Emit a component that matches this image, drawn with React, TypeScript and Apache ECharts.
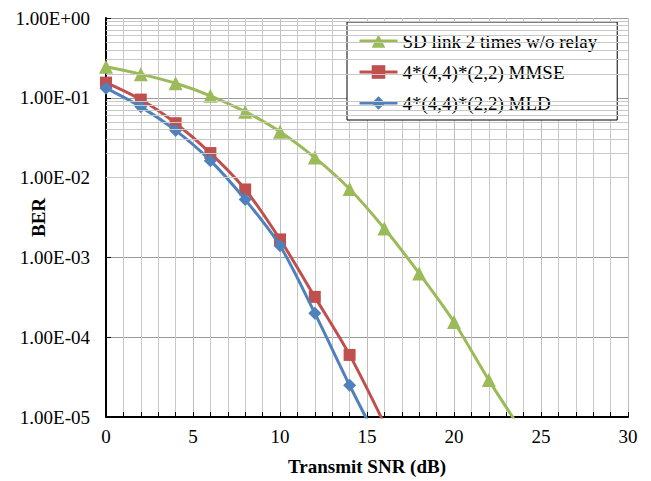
import React, { useEffect, useRef } from "react";
import * as echarts from "echarts";

const snr = [0, 2, 4, 6, 8, 10, 12, 14, 16, 18, 20, 22, 24];
const sdBer = [0.245, 0.198, 0.152, 0.106, 0.067, 0.0376, 0.0178, 0.0072, 0.0023, 0.00063, 0.000155, 0.000029, 0.0000062];
const mmseBer = [0.155, 0.095, 0.048, 0.0203, 0.0071, 0.00168, 0.00032, 0.00006, 0.0000082];
const mldBer = [0.132, 0.077, 0.039, 0.0163, 0.0053, 0.0014, 0.0002, 0.000025, 0.0000035];
const seriesNames = ["SD link 2 times w/o relay", "4*(4,4)*(2,2) MMSE", "4*(4,4)*(2,2) MLD"];
const decades = [-5, -4, -3, -2, -1];
const minorMultipliers = [2, 3, 4, 5, 6, 7, 8, 9];

const FONT = "Liberation Serif";

export default function App() {
  const ref = useRef<HTMLDivElement>(null);
  useEffect(() => {
    if (!ref.current) return;
    const chart = echarts.init(ref.current, undefined, { renderer: "svg" });
    const pairs = (ys: number[]) => ys.map((y, i) => [snr[i], y]);
    const minorVals: number[] = [];
    decades.forEach((d) => minorMultipliers.forEach((m) => minorVals.push(m * Math.pow(10, d))));
    const fmt = (v: number) => {
      const e = Math.round(Math.log10(v));
      return "1.00E" + (e < 0 ? "-" : "+") + String(Math.abs(e)).padStart(2, "0");
    };
    chart.setOption({
      animation: false,
      backgroundColor: "#ffffff",
      grid: { left: 106, right: 23, top: 18, bottom: 64, containLabel: false, outerBoundsMode: "none" },
      legend: {
        left: 347,
        top: 22,
        width: 250,
        orient: "vertical",
        backgroundColor: "#ffffff",
        borderColor: "#000000",
        borderWidth: 1,
        padding: [8, 20, 6, 11],
        itemGap: 9,
        itemWidth: 38,
        itemHeight: 17,
        lineStyle: { width: 3 },
        textStyle: { fontFamily: FONT, fontSize: 19, color: "#000", lineHeight: 22 },
        data: seriesNames,
      },
      xAxis: {
        type: "value",
        min: 0,
        max: 30,
        interval: 5,
        name: "Transmit SNR (dB)",
        nameLocation: "middle",
        nameGap: 40,
        nameMoveOverlap: false,
        nameTextStyle: { fontFamily: FONT, fontSize: 19, fontWeight: "bold", color: "#000" },
        axisLine: { lineStyle: { color: "#000", width: 2 } },
        axisTick: { inside: true, length: 5, lineStyle: { color: "#000" } },
        minorTick: { show: true, splitNumber: 5, length: 5, lineStyle: { color: "#000" } },
        axisLabel: { fontFamily: FONT, fontSize: 19, color: "#000", margin: 10 },
        splitLine: { show: true, lineStyle: { color: "#bdbdbd", width: 1 } },
        minorSplitLine: { show: true, lineStyle: { color: "#c8c8c8", width: 1 } },
      },
      yAxis: {
        type: "log",
        logBase: 10,
        min: 1e-5,
        max: 1,
        name: "BER",
        nameLocation: "middle",
        nameGap: 58,
        nameMoveOverlap: false,
        nameTextStyle: { fontFamily: FONT, fontSize: 19, fontWeight: "bold", color: "#000" },
        axisLine: { show: true, lineStyle: { color: "#000", width: 2 } },
        axisTick: { show: true, inside: true, length: 5, lineStyle: { color: "#000" } },
        axisLabel: { fontFamily: FONT, fontSize: 19, color: "#000", margin: 16, formatter: fmt },
        splitLine: { show: true, lineStyle: { color: "#9a9a9a", width: 1 } },
      },
      series: [
        {
          name: "__minor",
          type: "line",
          data: [],
          z: 1,
          silent: true,
          markLine: {
            silent: true,
            symbol: "none",
            label: { show: false },
            lineStyle: { color: "#c8c8c8", type: "solid", width: 1 },
            data: minorVals.map((v) => ({ yAxis: v })),
          },
        },
        {
          name: seriesNames[0],
          type: "line",
          smooth: 0.3,
          clip: true,
          data: pairs(sdBer),
          symbol: "triangle",
          symbolSize: 14,
          lineStyle: { width: 3, color: "#9bbb59" },
          itemStyle: { color: "#9bbb59" },
          z: 3,
        },
        {
          name: seriesNames[1],
          type: "line",
          smooth: 0.3,
          clip: true,
          data: pairs(mmseBer),
          symbol: "rect",
          symbolSize: 12,
          lineStyle: { width: 3, color: "#c0504d" },
          itemStyle: { color: "#c0504d" },
          z: 3,
        },
        {
          name: seriesNames[2],
          type: "line",
          smooth: 0.3,
          clip: true,
          data: pairs(mldBer),
          symbol: "diamond",
          symbolSize: 13,
          lineStyle: { width: 3, color: "#4f81bd" },
          itemStyle: { color: "#4f81bd" },
          z: 4,
        },
      ],
    });
    return () => chart.dispose();
  }, []);
  return (
    <div
      ref={ref}
      style={{ position: "fixed", left: 0, top: 0, width: 651, height: 481, background: "#fff" }}
    />
  );
}
